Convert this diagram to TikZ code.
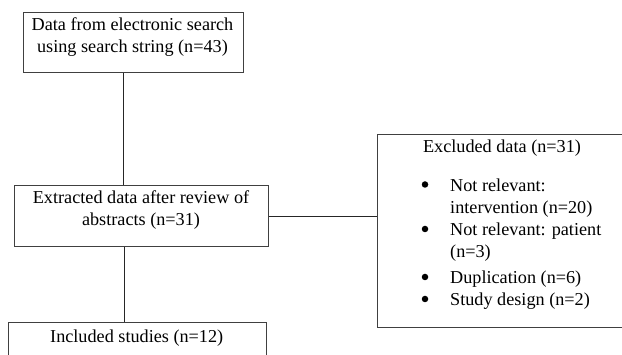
\documentclass[tikz,border=0pt]{standalone}
\usepackage{fontspec}
\setmainfont{Liberation Serif}
\usepackage{tikz}

\begin{document}
\begin{tikzpicture}[x=1pt, y=-1pt, font=\fontsize{18.2}{22.5}\selectfont,
    box/.style={draw=black!75, line width=0.9pt, inner sep=0pt},
    txt/.style={anchor=base, inner sep=0pt},
    item/.style={anchor=base west, inner sep=0pt},
    dot/.style={circle, fill=black, inner sep=0pt, minimum size=6.5pt},
    link/.style={draw=black!85, line width=0.8pt}]
      \useasboundingbox (0,0) rectangle (622,355);

      \node[box, anchor=north west, minimum width=220pt, minimum height=60pt] (search) at (23,12) {};
      \node[box, anchor=north west, minimum width=254pt, minimum height=61pt] (extract) at (14,185) {};
      \node[box, anchor=north west, minimum width=258pt, minimum height=60pt] (included) at (8,322) {};
      \node[box, anchor=north west, minimum width=250pt, minimum height=193pt] (excluded) at (377,134) {};

      \node[txt] (search1) at (132.5,30.7) {Data from electronic search};
      \node[txt] (search2) at (132.5,52.3) {using search string (n=43)};

      \node[txt] (extract1) at (141,203.7) {Extracted data after review of};
      \node[txt] (extract2) at (141,225.3) {abstracts (n=31)};

      \node[txt] (included1) at (136.7,343) {Included studies (n=12)};

      \node[txt] (excluded0) at (502,153) {Excluded data (n=31)};

      \node[dot] (dot1) at (425,184.5) {};
      \node[item] (item1a) at (450,191.5) {Not relevant:};
      \node[item] (item1b) at (450,213.5) {intervention (n=20)};

      \node[dot] (dot2) at (425,229) {};
      \node[item] (item2a) at (450,236) {Not relevant: patient};
      \node[item] (item2b) at (450,258) {(n=3)};

      \node[dot] (dot3) at (425,277) {};
      \node[item] (item3) at (450,284) {Duplication (n=6)};

      \node[dot] (dot4) at (425,299) {};
      \node[item] (item4) at (450,306) {Study design (n=2)};

      \draw[link] ([xshift=-10.5pt]search.south) -- ([xshift=-10.5pt]search.south |- extract.north);
      \draw[link] (extract.east) -- (extract.east -| excluded.west);
      \draw[link] ([xshift=-17pt]extract.south) -- ([xshift=-17pt]extract.south |- included.north);
    \end{tikzpicture}
\end{document}
